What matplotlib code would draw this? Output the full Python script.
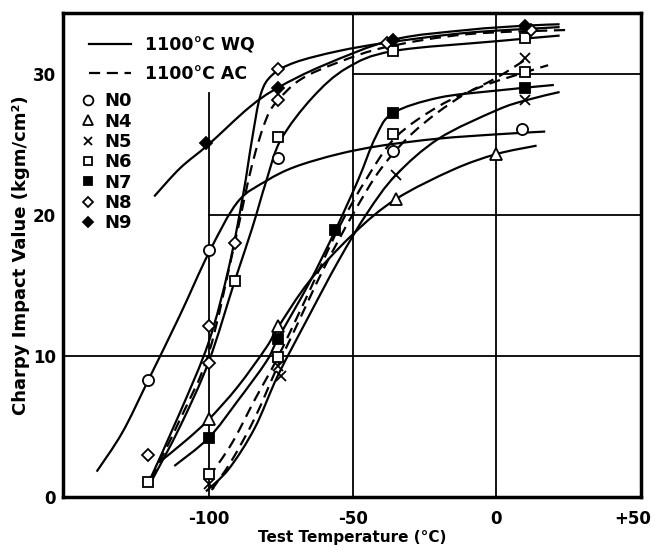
import numpy as np
import matplotlib
matplotlib.use('Agg')
import matplotlib.pyplot as plt
from matplotlib.path import Path
from matplotlib.patches import PathPatch
from matplotlib.lines import Line2D
from matplotlib.transforms import ScaledTranslation

plt.rcParams['font.family'] = ['DejaVu Sans']
plt.rcParams['font.weight'] = 'bold'
plt.rcParams['axes.labelweight'] = 'bold'

# 试验点
n0_t = [-121, -100, -76, -36, 9]
n0_v = [8.3, 17.5, 24.0, 24.5, 26.1]
n4_t = [-100, -76, -35, 0]
n4_v = [5.5, 12.1, 21.1, 24.3]
n5_t = [-100, -76, -75, -35, 10, 10]
n5_v = [0.9, 9.3, 8.6, 22.8, 31.1, 28.1]
n6_t = [-121, -100, -91, -76, -76, -36, -36, 10, 10]
n6_v = [1.1, 1.6, 15.3, 25.5, 9.9, 31.6, 25.7, 32.5, 30.1]
n7_t = [-100, -76, -56, -36, 10]
n7_v = [4.2, 11.2, 18.9, 27.2, 29.0]
n8_t = [-121, -100, -100, -91, -76, -76, -38, 12]
n8_v = [3.0, 12.1, 9.5, 18.0, 30.3, 28.1, 32.2, 33.1]
n9_t = [-101, -76, -36, 10]
n9_v = [25.1, 29.0, 32.4, 33.4]

# 手绘曲线上的读数点
c_n0_t = [-139, -130, -121, -110, -100, -90, -80, -70, -55, -40, -20, 0, 17]
c_n0_v = [1.8, 4.6, 8.3, 12.9, 17.3, 20.9, 22.4, 23.4, 24.3, 24.9, 25.4, 25.7, 25.9]
c_n9_t = [-119, -110, -100, -86, -76, -60, -36, -10, 10, 22]
c_n9_v = [21.3, 23.3, 25.0, 27.6, 29.0, 30.6, 32.4, 33.1, 33.4, 33.5]
c_n8wq_t = [-121, -110, -100, -93, -88, -85, -82, -78, -70, -55, -38, -10, 22]
c_n8wq_v = [1.0, 6.0, 11.0, 16.3, 21.5, 25.3, 28.5, 29.9, 30.8, 31.6, 32.2, 32.9, 33.3]
c_n8ac_t = [-120, -110, -100, -91, -85, -80, -76, -68, -55, -38, -10, 25]
c_n8ac_v = [1.3, 5.5, 10.2, 18.0, 23.5, 26.8, 28.1, 29.6, 30.8, 31.9, 32.8, 33.1]
c_n6wq_t = [-120, -110, -100, -91, -85, -80, -75, -64, -52, -36, 0, 22]
c_n6wq_v = [1.1, 5.0, 9.6, 15.3, 19.0, 22.4, 25.3, 28.3, 30.4, 31.6, 32.3, 32.7]
c_n4_t = [-117, -108, -100, -90, -80, -76, -65, -50, -35, -15, 0, 14]
c_n4_v = [2.5, 4.0, 5.5, 7.8, 10.6, 12.0, 15.3, 18.6, 21.1, 23.2, 24.3, 24.9]
c_n7_t = [-112, -100, -90, -80, -76, -65, -56, -48, -42, -36, -20, 0, 20]
c_n7_v = [2.2, 4.2, 6.8, 9.6, 11.2, 15.2, 18.9, 22.5, 25.5, 27.2, 28.3, 28.8, 29.2]
c_n5wq_t = [-101, -93, -84, -76, -65, -55, -45, -35, -20, 0, 10, 22]
c_n5wq_v = [0.4, 2.0, 4.9, 8.6, 12.9, 16.7, 20.1, 22.8, 25.4, 27.4, 28.1, 28.7]
c_n5ac_t = [-99, -92, -84, -76, -70, -60, -50, -40, -28, -13, 0, 11]
c_n5ac_v = [0.5, 2.6, 5.6, 9.3, 11.9, 16.2, 20.0, 23.3, 26.0, 28.3, 29.7, 31.1]
c_n6ac_t = [-100, -92, -84, -76, -65, -55, -45, -35, -20, -5, 10, 18]
c_n6ac_v = [1.4, 3.8, 6.9, 9.9, 14.6, 19.0, 22.6, 25.5, 27.7, 29.1, 30.1, 30.6]

xticks = [-100, -50, 0, 50]
xticklabels = ['-100', '-50', '0', '+50']
yticks = [0, 10, 20, 30]
yticklabels = ['0', '10', '20', '30']


def smooth_path(xs, ys):
    # Catmull-Rom -> 三次贝塞尔, 由 matplotlib 画
    p = np.column_stack([xs, ys]).astype(float)
    p = np.vstack([p[0], p, p[-1]])
    verts = [p[1]]
    codes = [Path.MOVETO]
    for i in range(1, len(p) - 2):
        c1 = p[i] + (p[i + 1] - p[i - 1]) / 6
        c2 = p[i + 1] - (p[i + 2] - p[i]) / 6
        verts += [c1, c2, p[i + 1]]
        codes += [Path.CURVE4] * 3
    return Path(verts, codes)


fig = plt.figure(figsize=(6.53, 5.46), dpi=100)
ax = fig.add_axes([0.0965, 0.0897, 0.8851, 0.8865])
xmin, xmax = -150.7, 50.3
ymin, ymax = 0, 34.3
ax.set_xlim(xmin, xmax)
ax.set_ylim(ymin, ymax)

fx = lambda v: (v - xmin) / (xmax - xmin)
fy = lambda v: (v - ymin) / (ymax - ymin)
gkw = dict(color='black', lw=1.3, zorder=1)
ax.axhline(10, **gkw)
ax.axhline(20, xmin=fx(-100), **gkw)
ax.axhline(30, xmin=fx(-50), **gkw)
ax.axvline(-100, ymax=fy(28.6), **gkw)
ax.axvline(-50, **gkw)
ax.axvline(0, **gkw)

solid = [(c_n0_t, c_n0_v), (c_n9_t, c_n9_v), (c_n8wq_t, c_n8wq_v),
         (c_n6wq_t, c_n6wq_v), (c_n4_t, c_n4_v), (c_n7_t, c_n7_v),
         (c_n5wq_t, c_n5wq_v)]
dashed = [(c_n8ac_t, c_n8ac_v), (c_n5ac_t, c_n5ac_v), (c_n6ac_t, c_n6ac_v)]
for t, v in solid:
    ax.add_patch(PathPatch(smooth_path(t, v), fill=False, lw=1.6,
                           edgecolor='black', zorder=2))
for t, v in dashed:
    ax.add_patch(PathPatch(smooth_path(t, v), fill=False, lw=1.6,
                           edgecolor='black', linestyle=(0, (5, 3)), zorder=2))

mk = dict(color='black', linestyle='none', zorder=3, markeredgewidth=1.3)
ax.plot(n0_t, n0_v, marker='o', ms=8, mfc='white', **mk)
ax.plot(n4_t, n4_v, marker='^', ms=8, mfc='white', **mk)
ax.plot(n5_t, n5_v, marker='x', ms=7, **mk)
ax.plot(n6_t, n6_v, marker='s', ms=6.5, mfc='white', **mk)
ax.plot(n7_t, n7_v, marker='s', ms=6.5, mfc='black', **mk)
ax.plot(n8_t, n8_v, marker='D', ms=6.5, mfc='white', **mk)
ax.plot(n9_t, n9_v, marker='D', ms=6.5, mfc='black', **mk)

# 图例
h1 = [Line2D([], [], color='black', lw=1.6),
      Line2D([], [], color='black', lw=1.6, linestyle=(0, (5, 3)))]
leg1 = ax.legend(h1, ['1100°C WQ', '1100°C AC'], loc='upper left',
                 bbox_to_anchor=(0.045, 0.952), frameon=False, fontsize=12.5,
                 handlelength=2.4, handletextpad=0.8, labelspacing=0.6,
                 borderpad=0, borderaxespad=0)
ax.add_artist(leg1)
mkw = dict(color='black', linestyle='none', markeredgewidth=1.3)
h2 = [Line2D([], [], marker='o', ms=7, mfc='white', **mkw),
      Line2D([], [], marker='^', ms=7, mfc='white', **mkw),
      Line2D([], [], marker='x', ms=6, **mkw),
      Line2D([], [], marker='s', ms=5.5, mfc='white', **mkw),
      Line2D([], [], marker='s', ms=5.5, mfc='black', **mkw),
      Line2D([], [], marker='D', ms=5.5, mfc='white', **mkw),
      Line2D([], [], marker='D', ms=5.5, mfc='black', **mkw)]
ax.legend(h2, ['N0', 'N4', 'N5', 'N6', 'N7', 'N8', 'N9'], loc='upper left',
          bbox_to_anchor=(0.03, 0.836), frameon=False, fontsize=13,
          handlelength=0.9, handletextpad=0.45, labelspacing=0.13,
          borderpad=0, borderaxespad=0)

ax.set_xticks(xticks)
ax.set_xticklabels(xticklabels, fontsize=12)
ax.set_yticks(yticks)
ax.set_yticklabels(yticklabels, fontsize=12)
ax.tick_params(length=0)
ax.tick_params(axis='x', pad=9)
ax.tick_params(axis='y', pad=5)
# +50 贴着右边, 往左挪一点
last = ax.get_xticklabels()[-1]
last.set_horizontalalignment('right')
last.set_transform(last.get_transform() + ScaledTranslation(0.11, 0, fig.dpi_scale_trans))
ax.set_xlabel('Test Temperature (°C)', fontsize=11, fontweight='bold', labelpad=2)
ax.set_ylabel('Charpy Impact Value (kgm/cm²)', fontsize=13, fontweight='bold', labelpad=2)
for s in ax.spines.values():
    s.set_linewidth(2.5)

fig.savefig('out.png', dpi=100)
